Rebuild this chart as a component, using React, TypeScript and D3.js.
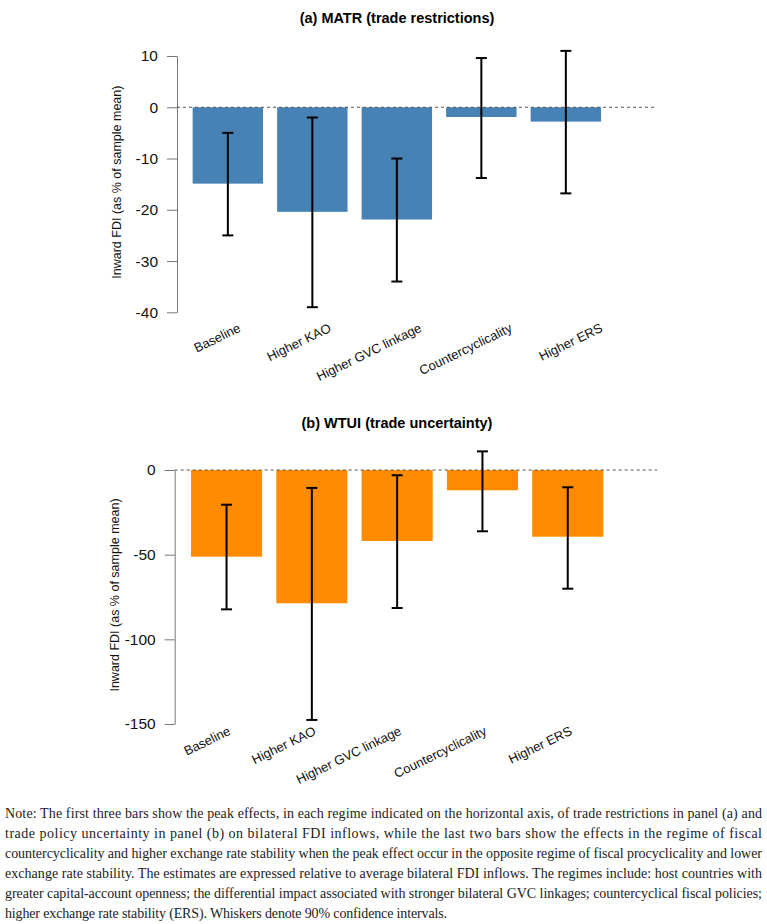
import * as d3 from "d3";
import { useEffect, useRef } from "react";

// regimes on the horizontal axis (same for both panels)
const categories = ["Baseline", "Higher KAO", "Higher GVC linkage", "Countercyclicality", "Higher ERS"];

// (a) MATR – peak effect and 90% interval
const matrEffect = [-14.9, -20.4, -21.9, -1.9, -2.8];
const matrLower = [-25.0, -39.0, -34.0, -13.8, -16.8];
const matrUpper = [-5.0, -2.0, -10.0, 9.6, 11.0];
const matrTicks = [10, 0, -10, -20, -30, -40];

// (b) WTUI – peak effect and 90% interval
const wtuiEffect = [-51.2, -78.7, -41.9, -12.0, -39.4];
const wtuiLower = [-82.3, -147.6, -81.5, -36.2, -70.1];
const wtuiUpper = [-20.5, -10.6, -3.1, 11.0, -10.2];
const wtuiTicks = [0, -50, -100, -150];

const noteLines = [
  "Note: The first three bars show the peak effects, in each regime indicated on the horizontal axis, of trade restrictions in panel (a) and",
  "trade policy uncertainty in panel (b) on bilateral FDI inflows, while the last two bars show the effects in the regime of fiscal",
  "countercyclicality and higher exchange rate stability when the peak effect occur in the opposite regime of fiscal procyclicality and lower",
  "exchange rate stability. The estimates are expressed relative to average bilateral FDI inflows. The regimes include: host countries with",
  "greater capital-account openness; the differential impact associated with stronger bilateral GVC linkages; countercyclical fiscal policies;",
  "higher exchange rate stability (ERS). Whiskers denote 90% confidence intervals.",
];

const W = 767;
const H = 924;
const sans = "Liberation Sans, Arial, sans-serif";

interface PanelOpts {
  title: string;
  values: number[];
  lower: number[];
  upper: number[];
  ticks: number[];
  color: string;
  yDomain: [number, number];
  yRange: [number, number];
  xRange: [number, number];
  labelRange: [number, number];
  labelY: number;
  titleY: number;
  axisX: number;
  zeroEnd: number;
  ylabelX: number;
}

function drawPanel(root: d3.Selection<SVGGElement, unknown, null, undefined>, o: PanelOpts) {
  const y = d3.scaleLinear().domain(o.yDomain).range(o.yRange);
  const x = d3
    .scaleBand<string>()
    .domain(categories)
    .range(o.xRange)
    .paddingInner(1 / 6)
    .paddingOuter(1 / 12);
  const xl = d3.scalePoint<string>().domain(categories).range(o.labelRange);

  const rows = categories.map((c, i) => ({ c, v: o.values[i], lo: o.lower[i], hi: o.upper[i] }));

  root
    .append("text")
    .attr("x", 397)
    .attr("y", o.titleY)
    .attr("text-anchor", "middle")
    .attr("font-family", sans)
    .attr("font-weight", "bold")
    .attr("font-size", 14.5)
    .text(o.title);

  const axis = root
    .append("g")
    .attr("transform", `translate(${o.axisX},0)`)
    .call(
      d3
        .axisLeft(y)
        .tickValues(o.ticks)
        .tickSize(10)
        .tickSizeOuter(0)
        .tickPadding(9)
        .tickFormat((d) => String(d))
    );
  axis.select(".domain").attr("stroke", "#777");
  axis.selectAll(".tick line").attr("stroke", "#777");
  axis
    .selectAll(".tick text")
    .attr("font-family", sans)
    .attr("font-size", 15.5)
    .attr("fill", "#111");

  root
    .append("text")
    .attr("transform", `translate(${o.ylabelX},${(o.yRange[0] + o.yRange[1]) / 2 - 2}) rotate(-90)`)
    .attr("text-anchor", "middle")
    .attr("font-family", sans)
    .attr("font-size", 12.5)
    .attr("fill", "#111")
    .text("Inward FDI (as % of sample mean)");

  root
    .selectAll("rect.bar")
    .data(rows)
    .enter()
    .append("rect")
    .attr("class", "bar")
    .attr("x", (d) => x(d.c)!)
    .attr("width", x.bandwidth())
    .attr("y", (d) => Math.min(y(0), y(d.v)))
    .attr("height", (d) => Math.abs(y(d.v) - y(0)))
    .attr("fill", o.color);

  root
    .append("line")
    .attr("x1", o.axisX)
    .attr("x2", o.zeroEnd)
    .attr("y1", y(0))
    .attr("y2", y(0))
    .attr("stroke", "#555")
    .attr("stroke-dasharray", "3 3");

  const err = root.selectAll("g.err").data(rows).enter().append("g").attr("class", "err");
  const cx = (d: { c: string }) => x(d.c)! + x.bandwidth() / 2;
  err
    .append("line")
    .attr("x1", cx)
    .attr("x2", cx)
    .attr("y1", (d) => y(d.lo))
    .attr("y2", (d) => y(d.hi));
  err
    .append("line")
    .attr("x1", (d) => cx(d) - 5.5)
    .attr("x2", (d) => cx(d) + 5.5)
    .attr("y1", (d) => y(d.lo))
    .attr("y2", (d) => y(d.lo));
  err
    .append("line")
    .attr("x1", (d) => cx(d) - 5.5)
    .attr("x2", (d) => cx(d) + 5.5)
    .attr("y1", (d) => y(d.hi))
    .attr("y2", (d) => y(d.hi));
  err.selectAll("line").attr("stroke", "#000").attr("stroke-width", 2);

  root
    .selectAll("text.xlab")
    .data(categories)
    .enter()
    .append("text")
    .attr("class", "xlab")
    .attr("transform", (d) => `translate(${xl(d)},${o.labelY}) rotate(-26)`)
    .attr("text-anchor", "end")
    .attr("font-family", sans)
    .attr("font-size", 13)
    .attr("fill", "#111")
    .text((d) => d);
}

export default function App() {
  const ref = useRef<SVGSVGElement | null>(null);

  useEffect(() => {
    const svg = d3.select(ref.current);
    svg.selectAll("*").remove();

    svg.append("rect").attr("width", W).attr("height", H).attr("fill", "#fff");

    drawPanel(svg.append("g"), {
      title: "(a) MATR (trade restrictions)",
      values: matrEffect,
      lower: matrLower,
      upper: matrUpper,
      ticks: matrTicks,
      color: "#4682B4",
      yDomain: [-40, 10],
      yRange: [312.3, 56],
      xRange: [185.6, 608.1],
      labelRange: [241.5, 603.5],
      labelY: 331,
      titleY: 23,
      axisX: 177,
      zeroEnd: 655,
      ylabelX: 121,
    });

    drawPanel(svg.append("g"), {
      title: "(b) WTUI (trade uncertainty)",
      values: wtuiEffect,
      lower: wtuiLower,
      upper: wtuiUpper,
      ticks: wtuiTicks,
      color: "#FF8C00",
      yDomain: [-150, 0],
      yRange: [724, 470],
      xRange: [183.9, 610.4],
      labelRange: [231.5, 573],
      labelY: 734,
      titleY: 428,
      axisX: 174.7,
      zeroEnd: 657,
      ylabelX: 119,
    });

    // note below the panels, justified like the source
    const note = svg.append("g");
    noteLines.forEach((line, i) => {
      const last = i === noteLines.length - 1;
      note
        .append("text")
        .attr("x", 5)
        .attr("y", 818 + i * 20)
        .attr("font-family", "Liberation Serif, Times New Roman, serif")
        .attr("font-size", 14)
        .attr("fill", "#222")
        .attr("textLength", last ? 442 : 757)
        .attr("lengthAdjust", "spacing")
        .text(line);
    });
  }, []);

  return (
    <svg
      ref={ref}
      width={W}
      height={H}
      style={{ position: "absolute", left: 0, top: 0, display: "block" }}
    ></svg>
  );
}
